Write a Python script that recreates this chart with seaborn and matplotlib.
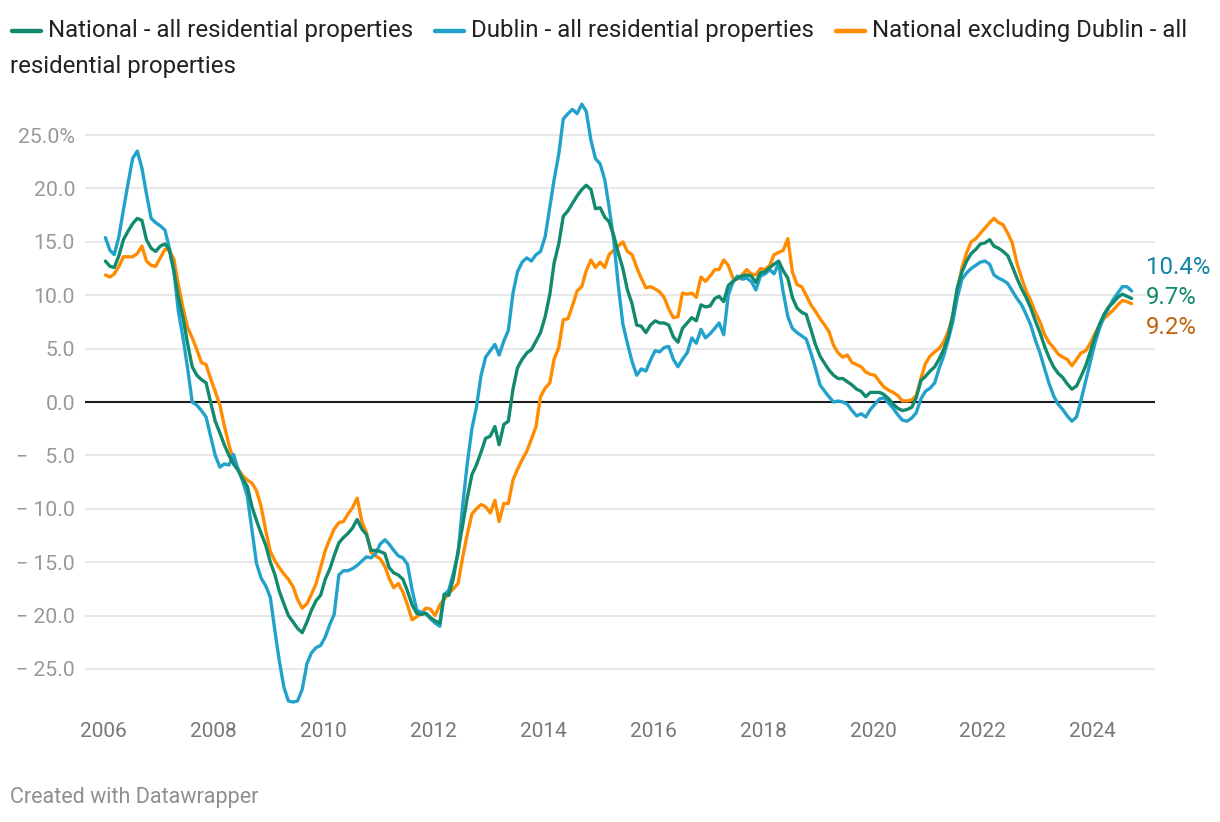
import numpy as np
import pandas as pd
import matplotlib
matplotlib.use("Agg")
import matplotlib.pyplot as plt
from matplotlib.lines import Line2D
import seaborn as sns

# Annual % change in residential property prices, monthly Jan 2006 - Sep 2024
national = [
    13.2, 12.7, 12.6, 13.7, 15.2, 16.0, 16.7, 17.2, 17.0, 15.2, 14.4, 14.1,
    14.6, 14.8, 14.3, 12.3, 9.8, 7.9, 5.5, 3.3, 2.5, 2.1, 1.8, 0.0,
    -1.8, -2.9, -4.0, -5.0, -5.8, -6.4, -7.2, -7.9, -9.8, -11.1, -12.3, -13.4,
    -15.0, -16.2, -17.7, -18.9, -20.0, -20.6, -21.2, -21.6, -20.6, -19.5, -18.6, -18.1,
    -16.6, -15.6, -14.4, -13.2, -12.7, -12.3, -11.8, -11.0, -11.9, -12.4, -13.9, -13.9,
    -14.0, -14.2, -15.5, -16.0, -16.2, -16.6, -17.7, -19.0, -19.8, -19.9, -19.8, -20.2,
    -20.5, -20.7, -18.0, -18.1, -16.5, -14.0, -11.6, -9.0, -6.8, -5.9, -4.7, -3.4,
    -3.2, -2.3, -4.0, -2.1, -1.8, 1.2, 3.2, 4.0, 4.6, 4.9, 5.7, 6.5,
    8.0, 10.1, 13.0, 14.8, 17.4, 17.9, 18.6, 19.3, 19.9, 20.3, 19.9, 18.1,
    18.2, 17.3, 16.9, 15.6, 14.0, 12.5, 10.5, 9.2, 7.2, 7.1, 6.5, 7.2,
    7.6, 7.4, 7.4, 7.2, 6.1, 5.6, 6.9, 7.4, 7.9, 7.6, 9.1, 8.9,
    9.0, 9.7, 9.9, 9.4, 10.9, 11.3, 11.6, 11.8, 11.9, 11.8, 11.2, 12.1,
    12.2, 12.6, 12.9, 13.2, 12.3, 11.6, 9.8, 8.8, 8.4, 8.2, 6.8, 5.4,
    4.3, 3.6, 3.0, 2.5, 2.2, 2.2, 1.9, 1.6, 1.2, 1.0, 0.5, 0.9,
    0.9, 0.9, 0.7, 0.3, -0.2, -0.6, -0.8, -0.7, -0.5, 0.4, 2.0, 2.4,
    2.9, 3.3, 4.0, 4.9, 6.1, 8.2, 10.7, 12.2, 13.2, 13.9, 14.3, 14.8,
    14.9, 15.2, 14.6, 14.4, 14.1, 13.7, 12.7, 11.6, 10.6, 9.8, 8.8, 7.6,
    6.5, 5.2, 4.2, 3.3, 2.7, 2.3, 1.7, 1.2, 1.5, 2.4, 3.4, 4.7,
    6.1, 7.3, 8.2, 8.9, 9.3, 9.8, 10.1, 9.9, 9.7,
]

dublin = [
    15.4, 14.2, 13.8, 15.5, 18.0, 20.5, 22.8, 23.5, 21.9, 19.5, 17.2, 16.8,
    16.5, 16.1, 14.5, 12.3, 8.5, 6.0, 3.2, 0.0, -0.3, -0.8, -1.4, -3.2,
    -5.0, -6.1, -5.8, -5.9, -4.9, -6.3, -7.4, -8.8, -12.0, -15.1, -16.5, -17.2,
    -18.3, -21.5, -24.2, -26.7, -28.0, -28.1, -28.0, -26.9, -24.5, -23.5, -23.0, -22.8,
    -22.0, -20.8, -19.9, -16.2, -15.8, -15.8, -15.6, -15.3, -14.9, -14.5, -14.6, -14.2,
    -13.3, -12.9, -13.3, -13.9, -14.4, -14.6, -15.2, -17.6, -19.5, -19.7, -19.8, -20.3,
    -20.7, -21.0, -18.1, -17.6, -16.0, -14.2, -9.8, -5.8, -2.5, -0.5, 2.5, 4.2,
    4.8, 5.4, 4.4, 5.7, 6.7, 10.2, 12.2, 13.1, 13.5, 13.2, 13.8, 14.1,
    15.5, 18.3, 20.8, 23.2, 26.5, 27.0, 27.4, 27.0, 27.9, 27.2, 24.5, 22.8,
    22.3, 20.8, 18.3, 15.2, 11.0, 7.3, 5.5, 3.8, 2.5, 3.1, 2.9, 3.9,
    4.8, 4.7, 5.1, 5.2, 4.0, 3.3, 4.0, 4.6, 6.0, 5.5, 6.8, 6.0,
    6.4, 6.9, 7.4, 6.3, 10.0, 11.2, 11.8, 11.5, 11.6, 11.3, 10.5, 11.8,
    12.0, 12.4, 12.0, 13.0, 10.3, 8.0, 6.9, 6.5, 6.2, 5.9, 4.6, 3.2,
    1.6, 1.0, 0.5, 0.0, 0.1, 0.0, -0.2, -0.8, -1.3, -1.1, -1.4, -0.7,
    -0.2, 0.3, 0.4, -0.1, -0.6, -1.2, -1.7, -1.8, -1.5, -1.0, 0.3, 1.0,
    1.3, 1.8, 3.1, 4.3, 5.8, 7.5, 9.8, 11.5, 12.1, 12.5, 12.8, 13.1,
    13.2, 12.9, 11.9, 11.6, 11.4, 11.1, 10.4, 9.7, 9.1, 8.2, 7.2, 5.8,
    4.6, 3.1, 1.8, 0.6, -0.2, -0.7, -1.3, -1.8, -1.4, 0.2, 2.0, 3.7,
    5.5, 6.9, 8.0, 8.8, 9.6, 10.2, 10.8, 10.8, 10.4,
]

excl_dublin = [
    11.9, 11.7, 12.0, 12.7, 13.6, 13.6, 13.6, 13.9, 14.6, 13.2, 12.8, 12.7,
    13.5, 14.3, 14.2, 13.4, 11.0, 8.8, 7.0, 6.0, 4.9, 3.7, 3.5, 2.2,
    1.0, -0.3, -2.2, -4.0, -5.5, -6.3, -6.9, -7.3, -7.6, -8.3, -9.8, -12.0,
    -14.0, -14.9, -15.5, -16.1, -16.6, -17.3, -18.5, -19.3, -18.9, -18.0, -17.0, -15.5,
    -13.9, -12.8, -11.9, -11.3, -11.2, -10.5, -9.9, -9.0, -11.2, -12.2, -14.1, -14.4,
    -14.7, -15.4, -16.5, -17.4, -17.0, -17.8, -19.0, -20.4, -20.1, -19.8, -19.3, -19.4,
    -20.0, -19.0, -18.5, -17.9, -17.5, -17.0, -14.6, -12.4, -10.5, -10.0, -9.6, -9.8,
    -10.4, -9.2, -11.2, -9.5, -9.5, -7.3, -6.3, -5.4, -4.6, -3.5, -2.3, 0.5,
    1.3, 1.8, 4.0, 5.1, 7.7, 7.8, 9.0, 10.4, 10.8, 12.3, 13.3, 12.6,
    13.1, 12.6, 13.8, 14.2, 14.6, 15.0, 14.1, 13.8, 12.6, 11.6, 10.7, 10.8,
    10.6, 10.3, 9.8, 8.7, 7.9, 8.0, 10.2, 10.1, 10.2, 9.8, 11.7, 11.3,
    11.8, 12.4, 12.4, 13.3, 12.8, 11.6, 11.5, 11.9, 12.4, 12.0, 11.9, 12.5,
    12.4, 12.8, 13.8, 14.0, 14.2, 15.3, 12.2, 11.0, 10.8, 10.0, 9.1, 8.5,
    7.8, 7.2, 6.6, 5.3, 4.6, 4.2, 4.4, 3.7, 3.5, 3.3, 2.8, 2.6,
    2.5, 1.9, 1.4, 1.1, 0.9, 0.6, 0.1, 0.1, 0.2, 0.6, 2.2, 3.6,
    4.3, 4.7, 5.0, 5.6, 6.6, 8.0, 10.5, 12.6, 14.0, 15.0, 15.3, 15.8,
    16.3, 16.8, 17.2, 16.8, 16.6, 15.8, 14.9, 13.0, 11.6, 10.4, 9.5, 8.4,
    7.5, 6.3, 5.6, 5.1, 4.5, 4.2, 4.0, 3.4, 4.0, 4.6, 4.8, 5.5,
    6.4, 7.2, 7.8, 8.2, 8.6, 9.1, 9.5, 9.4, 9.2,
]

names = ["National - all residential properties",
         "Dublin - all residential properties",
         "National excluding Dublin - all residential properties"]
colors = {names[0]: "#118a6d", names[1]: "#22a2cb", names[2]: "#ff8c00"}
label_colors = ["#1483a8", "#118a6d", "#c0640c"]
end_labels = ["10.4%", "9.7%", "9.2%"]

dates = pd.date_range("2006-01-01", periods=len(national), freq="MS") + pd.Timedelta(days=14)
df = pd.DataFrame({"date": dates, names[0]: national, names[1]: dublin, names[2]: excl_dublin})
df = df.melt(id_vars="date", var_name="series", value_name="value")

sns.set_style("white")
plt.rcParams['font.family'] = ['Roboto', 'DejaVu Sans']

fig = plt.figure(figsize=(12.2, 8.22), dpi=100)
ax = fig.add_axes([0.0697, 0.1363, 0.877, 0.742])

ax.grid(axis="y", color="#e5e5e5", lw=1.3, zorder=0)
sns.lineplot(data=df, x="date", y="value", hue="series",
             hue_order=[names[2], names[1], names[0]], palette=colors,
             linewidth=2.4, legend=False, ax=ax, zorder=3)
ax.axhline(0, color="#1d1d1d", lw=1.5, zorder=2)

ax.set_xlim(pd.Timestamp("2005-09-02"), pd.Timestamp("2025-02-17"))
ax.set_ylim(-28.84, 28.28)


def ylab(v):
    if v == 25:
        return "25.0%"
    if v < 0:
        num = f"{abs(v):.1f}"
        pad = "\u2007" if abs(v) < 10 else ""
        return "\u2212 " + pad + num
    return f"{v:.1f}"


yt = list(range(-25, 30, 5))
ax.set_yticks(yt)
ax.set_yticklabels([ylab(v) for v in yt])
xt_years = list(range(2006, 2025, 2))
ax.set_xticks(pd.to_datetime([f"{y}-01-01" for y in xt_years]))
ax.set_xticklabels([str(y) for y in xt_years])
ax.tick_params(axis="y", length=0, pad=7.2, labelsize=15.3, labelcolor="#999999")
ax.tick_params(axis="x", length=0, pad=9, labelsize=15, labelcolor="#777777")
ax.set_xlabel("")
ax.set_ylabel("")
for s in ax.spines.values():
    s.set_visible(False)

# end labels
for lab, c, ypx in zip(end_labels, label_colors, [267, 298, 328]):
    fig.text(1146 / 1220, 1 - ypx / 822, lab, color=c, fontsize=17.3, va="center", ha="left")

# legend drawn by hand (wraps onto a second line)
fig.canvas.draw()
renderer = fig.canvas.get_renderer()
W, H = 1220, 822
ly = 1 - 31 / H
x = 12
legend_labels = [names[0], names[1], "National excluding Dublin - all"]
for lab, key in zip(legend_labels, names):
    fig.add_artist(Line2D([x / W, (x + 29) / W], [ly, ly], transform=fig.transFigure,
                          color=colors[key], lw=3.2, solid_capstyle="round"))
    t = fig.text((x + 36) / W, ly, lab, fontsize=17.3, color="#222222", va="center", ha="left")
    bb = t.get_window_extent(renderer)
    x = bb.x1 + 22
fig.text(10 / W, 1 - 67 / H, "residential properties", fontsize=17.3, color="#222222",
         va="center", ha="left")

fig.text(10 / W, 1 - 797 / H, "Created with Datawrapper", fontsize=15.5, color="#8f8f8f",
         va="center", ha="left")

fig.savefig("out.png", dpi=100, facecolor="white")
